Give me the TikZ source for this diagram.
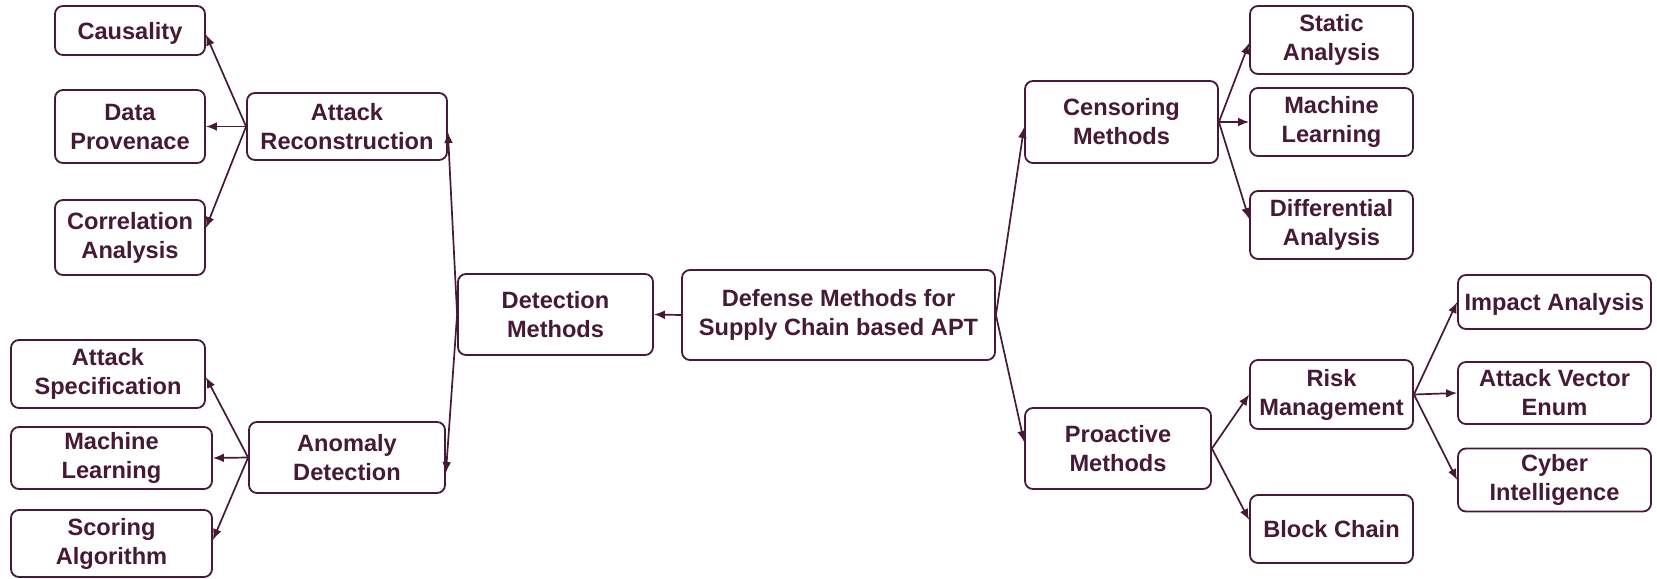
\documentclass[tikz,border=0pt]{standalone}
\usepackage{fontspec}
\setmainfont{Liberation Sans}
\usetikzlibrary{arrows.meta}
\definecolor{ink}{RGB}{70,25,55}
\tikzset{
  box/.style={draw=ink, line width=0.9pt, rounded corners=4pt, fill=white,
    text=ink, align=center, inner sep=0pt,
    font=\fontsize{11.8pt}{14.5pt}\selectfont\bfseries},
  oneline/.style={text depth=0pt},
  link/.style={draw=ink, line width=0.85pt, -{Latex[length=5.5pt,width=4.4pt]}}
}
\begin{document}
\begin{tikzpicture}[x=0.5pt, y=-0.5pt]
\useasboundingbox (0,0) rectangle (1657,578);

% left branch: attack reconstruction
\node[box, oneline, minimum width=75pt, minimum height=24.5pt] (caus) at (130,30.5) {Causality};
\node[box, minimum width=75pt, minimum height=36.5pt] (dprov) at (130,126.5) {Data\\Provenace};
\node[box, minimum width=75pt, minimum height=37.5pt] (corr) at (130,237.5) {Correlation\\Analysis};
\node[box, minimum width=100pt, minimum height=33.5pt] (arec) at (347,126.5) {Attack\\Reconstruction};

% left branch: anomaly detection
\node[box, minimum width=97pt, minimum height=34pt] (aspec) at (108,374) {Attack\\Specification};
\node[box, minimum width=100.5pt, minimum height=31pt] (mlL) at (111.5,458) {Machine\\Learning};
\node[box, minimum width=100.5pt, minimum height=33.5pt] (score) at (111.5,543.5) {Scoring\\Algorithm};
\node[box, minimum width=98pt, minimum height=35.5pt] (anom) at (347,457.5) {Anomaly\\Detection};

% centre
\node[box, minimum width=97.5pt, minimum height=40.5pt] (det) at (555.5,314.5) {Detection\\Methods};
\node[box, minimum width=156.5pt, minimum height=45pt] (def) at (838.5,315) {Defense Methods for\\Supply Chain based APT};

% right branch: censoring
\node[box, minimum width=96.5pt, minimum height=41pt] (cens) at (1121.5,122) {Censoring\\Methods};
\node[box, minimum width=81.5pt, minimum height=34pt] (stat) at (1331.5,40) {Static\\Analysis};
\node[box, minimum width=81.5pt, minimum height=34pt] (mlR) at (1331.5,122) {Machine\\Learning};
\node[box, minimum width=81.5pt, minimum height=34pt] (diff) at (1331.5,225) {Differential\\Analysis};

% right branch: proactive
\node[box, minimum width=93pt, minimum height=40.5pt] (proa) at (1118,448.5) {Proactive\\Methods};
\node[box, minimum width=81.5pt, minimum height=34.5pt] (risk) at (1331.5,394.5) {Risk\\Management};
\node[box, oneline, minimum width=81.5pt, minimum height=34pt] (block) at (1331.5,529) {Block Chain};
\node[box, oneline, minimum width=96.5pt, minimum height=27pt] (imp) at (1554.5,302) {Impact Analysis};
\node[box, minimum width=96.5pt, minimum height=31pt] (ave) at (1554.5,393) {Attack Vector\\Enum};
\node[box, minimum width=96.5pt, minimum height=31.5pt] (cyber) at (1554.5,480) {Cyber\\Intelligence};

% connectors
\draw[link] (def.west) -- (det.east);
\draw[link] (det.west) -- ([yshift=-2.75pt]arec.east);
\draw[link] (det.west) -- ([yshift=-7.75pt]anom.east);
\draw[link] (def.east) -- ([yshift=-2.5pt]cens.west);
\draw[link] (def.east) -- ([yshift=3.25pt]proa.west);

\draw[link] (arec.west) -- ([yshift=-2pt]caus.east);
\draw[link] (arec.west) -- (dprov.east);
\draw[link] (arec.west) -- ([yshift=4.75pt]corr.east);

\draw[link] (anom.west) -- ([yshift=-1.5pt]aspec.east);
\draw[link] (anom.west) -- (mlL.east);
\draw[link] (anom.west) -- ([yshift=1.75pt]score.east);

\draw[link] (cens.east) -- ([yshift=-1.5pt]stat.west);
\draw[link] (cens.east) -- (mlR.west);
\draw[link] (cens.east) -- ([yshift=3pt]diff.west);

\draw[link] (proa.east) -- (risk.west);
\draw[link] (proa.east) -- ([yshift=4.5pt]block.west);

\draw[link] (risk.east) -- (imp.west);
\draw[link] (risk.east) -- (ave.west);
\draw[link] (risk.east) -- (cyber.west);
\end{tikzpicture}
\end{document}
